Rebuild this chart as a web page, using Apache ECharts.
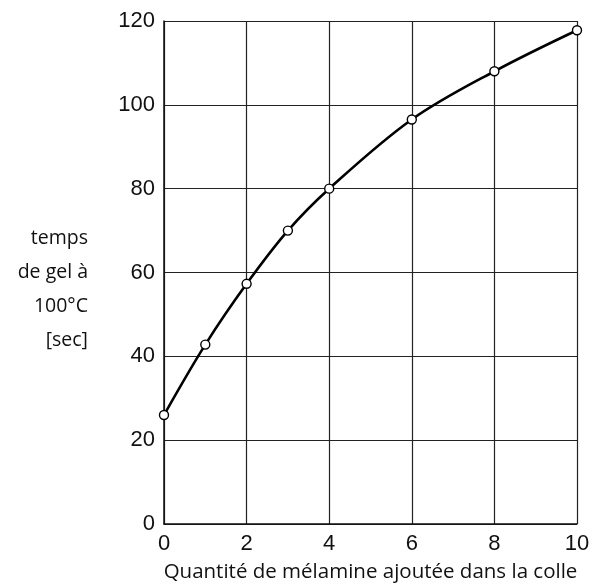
<!DOCTYPE html>
<html>
<head>
<meta charset="utf-8">
<script src="https://cdn.jsdelivr.net/npm/echarts@6/dist/echarts.min.js"></script>
<style>
body{margin:0;background:#fff;}
#chart{width:592px;height:587px;}
</style>
</head>
<body>
<div id="chart"></div>
<script>
// quantité de mélamine (x) et temps de gel (y)
var melamine = [0, 1, 2, 3, 4, 6, 8, 10];
var tempsGel = [26, 42.8, 57.3, 70, 80, 96.5, 108, 117.8];
var xTicks = [0, 2, 4, 6, 8, 10];
var yTicks = [0, 20, 40, 60, 80, 100, 120];

var points = melamine.map(function (x, i) { return [x, tempsGel[i]]; });

var myChart = echarts.init(document.getElementById('chart'));
var option = {
    backgroundColor: '#fff',
    animation: false,
    grid: {left: 164, right: 15, top: 21, bottom: 63, outerBoundsMode: 'none'},
    xAxis: {
        type: 'value',
        min: xTicks[0],
        max: xTicks[xTicks.length - 1],
        interval: 2,
        name: 'Quantité de mélamine ajoutée dans la colle',
        nameLocation: 'middle',
        nameGap: 38,
        nameTextStyle: {fontFamily: 'Open Sans', fontSize: 20.5, color: '#111'},
        axisLine: {lineStyle: {color: '#111', width: 1.5}},
        axisTick: {show: false},
        axisLabel: {fontFamily: 'Liberation Sans', fontSize: 22, color: '#111', margin: 9},
        splitLine: {show: true, lineStyle: {color: '#222', width: 1.2}}
    },
    yAxis: {
        type: 'value',
        min: yTicks[0],
        max: yTicks[yTicks.length - 1],
        interval: 20,
        // ligne vide en tête : le bloc est un peu plus bas que le milieu de l'axe
        name: '\ntemps\nde gel à\n100°C\n[sec]',
        nameLocation: 'middle',
        nameRotate: 0,
        nameGap: 76,
        nameTextStyle: {fontFamily: 'Open Sans', fontSize: 19.5, color: '#111', lineHeight: 34, align: 'right'},
        axisLine: {show: true, lineStyle: {color: '#111', width: 1.5}},
        axisTick: {show: false},
        axisLabel: {fontFamily: 'Liberation Sans', fontSize: 22, color: '#111', margin: 9},
        splitLine: {show: true, lineStyle: {color: '#222', width: 1.2}}
    },
    series: [{
        type: 'line',
        data: points,
        smooth: 0.35,
        symbol: 'circle',
        symbolSize: 9,
        lineStyle: {color: '#000', width: 2.6},
        itemStyle: {color: '#fff', borderColor: '#000', borderWidth: 1.4},
        z: 3
    }]
};
myChart.setOption(option);
</script>
</body>
</html>
